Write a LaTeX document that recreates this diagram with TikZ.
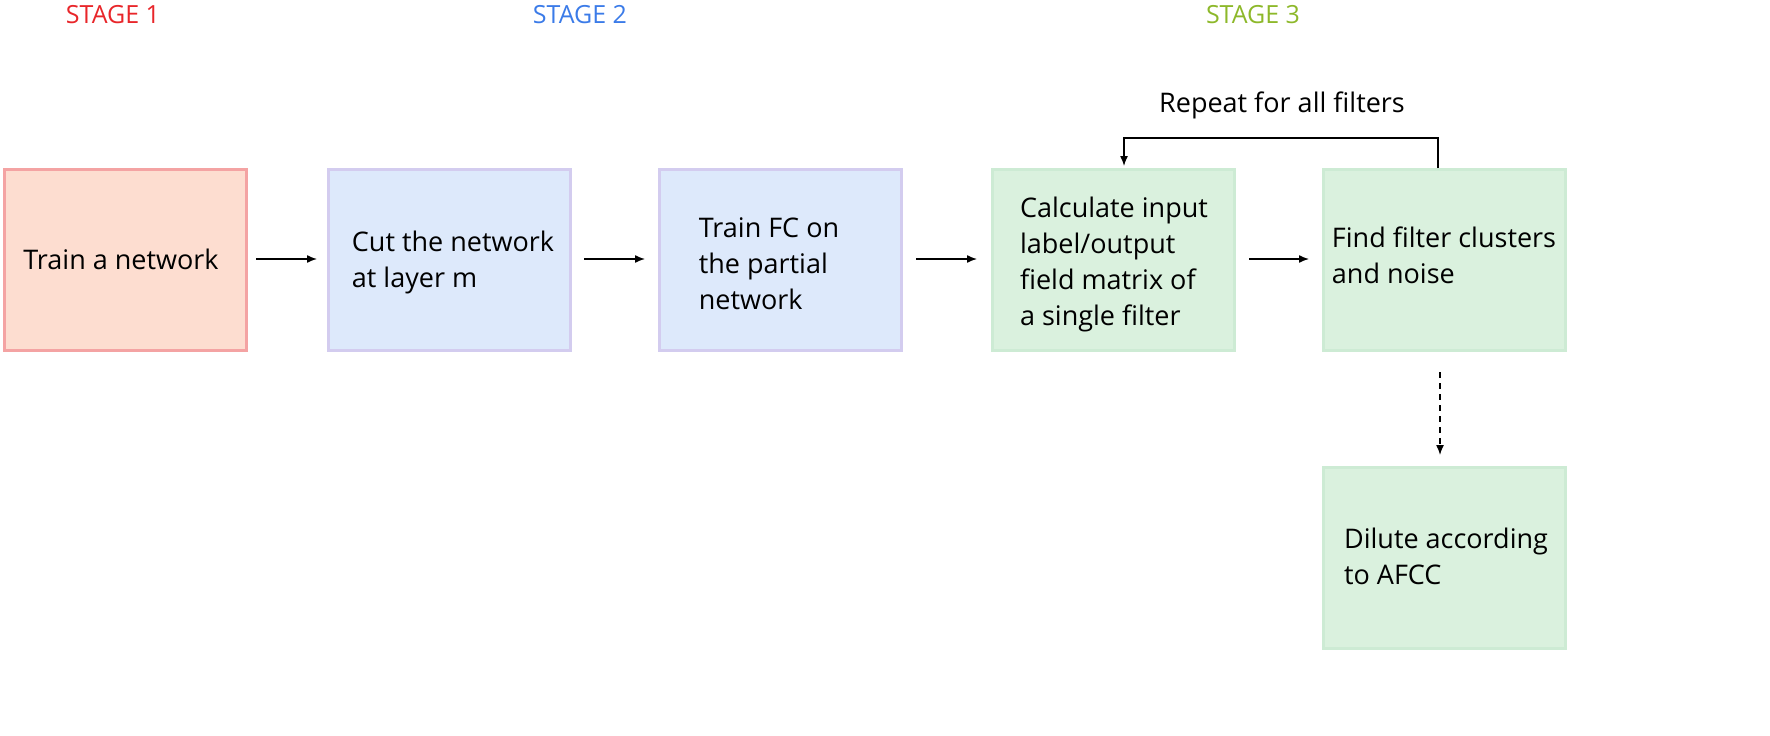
\documentclass[tikz,border=0pt]{standalone}
\usepackage{fontspec}
\setmainfont{Open Sans}
\usetikzlibrary{arrows.meta}
\definecolor{rf}{HTML}{FDDDD0}\definecolor{rd}{HTML}{F4A3A3}
\definecolor{bf}{HTML}{DDE9FB}\definecolor{bd}{HTML}{D3CCEF}
\definecolor{gf}{HTML}{DAF1DE}\definecolor{gd}{HTML}{CDEBD4}
\definecolor{s1}{HTML}{E8262A}\definecolor{s2}{HTML}{3B7BE8}\definecolor{s3}{HTML}{8DB82A}
\begin{document}
\begin{tikzpicture}[x=1pt,y=-1pt,
 box/.style={draw,line width=2.5pt,minimum width=242pt,minimum height=181pt,anchor=north west,inner sep=0pt},
 txt/.style={font=\fontsize{27}{36}\selectfont,align=left},
 arr/.style={-{Latex[length=10pt,width=8pt]},line width=1.4pt},
 stage/.style={font=\fontsize{25}{30}\selectfont}]
\useasboundingbox (0,0) rectangle (1770,736);
\node[box,draw=rd,fill=rf] (b1) at (3,168) {};
\node[box,draw=bd,fill=bf] (b2) at (327,168) {};
\node[box,draw=bd,fill=bf] (b3) at (658,168) {};
\node[box,draw=gd,fill=gf] (b4) at (991,168) {};
\node[box,draw=gd,fill=gf] (b5) at (1322,168) {};
\node[box,draw=gd,fill=gf] (b6) at (1322,466) {};
\node[txt] at (121,259) {Train a network};
\node[txt] at (453,262) {Cut the network\\ at layer m};
\node[txt] at (769,264) {Train FC on\\the partial\\network};
\node[txt] at (1114,264) {Calculate input\\label/output\\ field matrix of\\a single filter};
\node[txt] at (1444,255) {Find filter clusters\\ and noise};
\node[txt] at (1446,556) {Dilute according\\ to AFCC};
\node[stage,text=s1] at (113,15) {STAGE 1};
\node[stage,text=s2] at (580,15) {STAGE 2};
\node[stage,text=s3] at (1253,15) {STAGE 3};
\node[txt] at (1282,105) {Repeat for all filters};
\draw[arr] (256,259) -- (317,259);
\draw[arr] (584,259) -- (645,259);
\draw[arr] (916,259) -- (977,259);
\draw[arr] (1249,259) -- (1309,259);
\draw[arr,dashed,dash pattern=on 6pt off 5pt] (1440,372) -- (1440,455);
\draw[arr] (1438,168) -- (1438,138) -- (1124,138) -- (1124,166);
\end{tikzpicture}
\end{document}
